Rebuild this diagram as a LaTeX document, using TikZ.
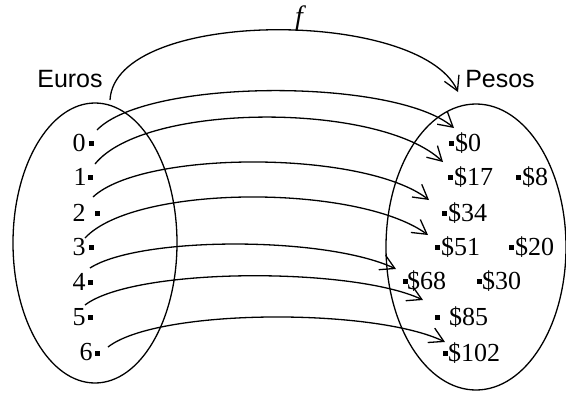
\documentclass[tikz,border=0pt]{standalone}
\usepackage{fontspec}
\newfontfamily\sansf{Liberation Sans}
\newfontfamily\serf{Liberation Serif}
\usetikzlibrary{arrows.meta,shapes.geometric}
\begin{document}
\begin{tikzpicture}[x=1pt,y=-1pt,
  map/.style={line width=1.3pt,-{Straight Barb[length=14pt,width=16pt,line width=1.3pt]}},
  setbox/.style={draw,ellipse,line width=1.3pt,inner sep=0pt},
  lab/.style={font=\serf\fontsize{26}{26}\selectfont,inner sep=0pt},
  slab/.style={font=\sansf\fontsize{25}{25}\selectfont,inner sep=0pt},
  dot/.style={fill=black,minimum size=5pt,inner sep=0pt}]
\useasboundingbox (0,0) rectangle (566,392);
% sets
\node[setbox,minimum width=164pt,minimum height=280pt] (E) at (95,243) {};
\node[setbox,minimum width=180pt,minimum height=286pt] (P) at (476,247) {};
\node[slab] (eu) at (70,79) {Euros};
\node[slab] (pe) at (500,79) {Pesos};
\node[font=\serf\itshape\fontsize{28}{28}\selectfont,inner sep=0pt] (f) at (299,19) {f};
% euro labels
\node[lab] (l0) at (79,143) {0}; \node[dot] (d0) at (91,143) {};
\node[lab] (l1) at (80,177) {1}; \node[dot] (d1) at (90,177) {};
\node[lab] (l2) at (79,213) {2}; \node[dot] (d2) at (97,213) {};
\node[lab] (l3) at (79,247) {3}; \node[dot] (d3) at (91,247) {};
\node[lab] (l4) at (79,282) {4}; \node[dot] (d4) at (90,282) {};
\node[lab] (l5) at (79,317) {5}; \node[dot] (d5) at (90,317) {};
\node[lab] (l6) at (86,352) {6}; \node[dot] (d6) at (97,353) {};
% peso labels
\node[dot] (q0) at (451,143) {}; \node[lab,anchor=west] (p0) at (455,143) {\$0};
\node[dot] (q17) at (450,177) {}; \node[lab,anchor=west] (p17) at (454,177) {\$17};
\node[dot] (q8) at (518,177) {}; \node[lab,anchor=west] (p8) at (522,177) {\$8};
\node[dot] (q34) at (444,213) {}; \node[lab,anchor=west] (p34) at (448,213) {\$34};
\node[dot] (q51) at (437,247) {}; \node[lab,anchor=west] (p51) at (441,247) {\$51};
\node[dot] (q20) at (511,247) {}; \node[lab,anchor=west] (p20) at (515,247) {\$20};
\node[dot] (q68) at (405,281) {}; \node[lab,anchor=west] (p68) at (407,281) {\$68};
\node[dot] (q30) at (479,281) {}; \node[lab,anchor=west] (p30) at (482,281) {\$30};
\node[dot] (q85) at (437,317) {}; \node[lab,anchor=west] (p85) at (449,317) {\$85};
\node[dot] (q102) at (445,353) {}; \node[lab,anchor=west] (p102) at (448,353) {\$102};
% connector ends
\coordinate (fs) at (110,100); \coordinate (ft) at (458,92);
\coordinate (s0) at (97,130);  \coordinate (t0) at (454,128);
\coordinate (s1) at (95,164);  \coordinate (t1) at (443,162);
\coordinate (s2) at (93,197);  \coordinate (t2) at (429,200);
\coordinate (s3) at (85,238);  \coordinate (t3) at (428,235);
\coordinate (s4) at (90,268);  \coordinate (t4) at (396,269);
\coordinate (s5) at (85,305);  \coordinate (t5) at (423,300);
\coordinate (s6) at (108,347); \coordinate (t6) at (445,342);
% arrows
\draw[map] (fs) .. controls (115,8) and (420,8) .. (ft);
\draw[map] (s0) .. controls (147,78) and (395,78) .. (t0);
\draw[map] (s1) .. controls (145,102) and (380,102) .. (t1);
\draw[map] (s2) .. controls (143,150) and (364,150) .. (t2);
\draw[map] (s3) .. controls (135,184) and (358,184) .. (t3);
\draw[map] (s4) .. controls (140,236) and (326,236) .. (t4);
\draw[map] (s5) .. controls (135,267) and (353,267) .. (t5);
\draw[map] (s6) .. controls (158,308) and (375,308) .. (t6);
\end{tikzpicture}
\end{document}
